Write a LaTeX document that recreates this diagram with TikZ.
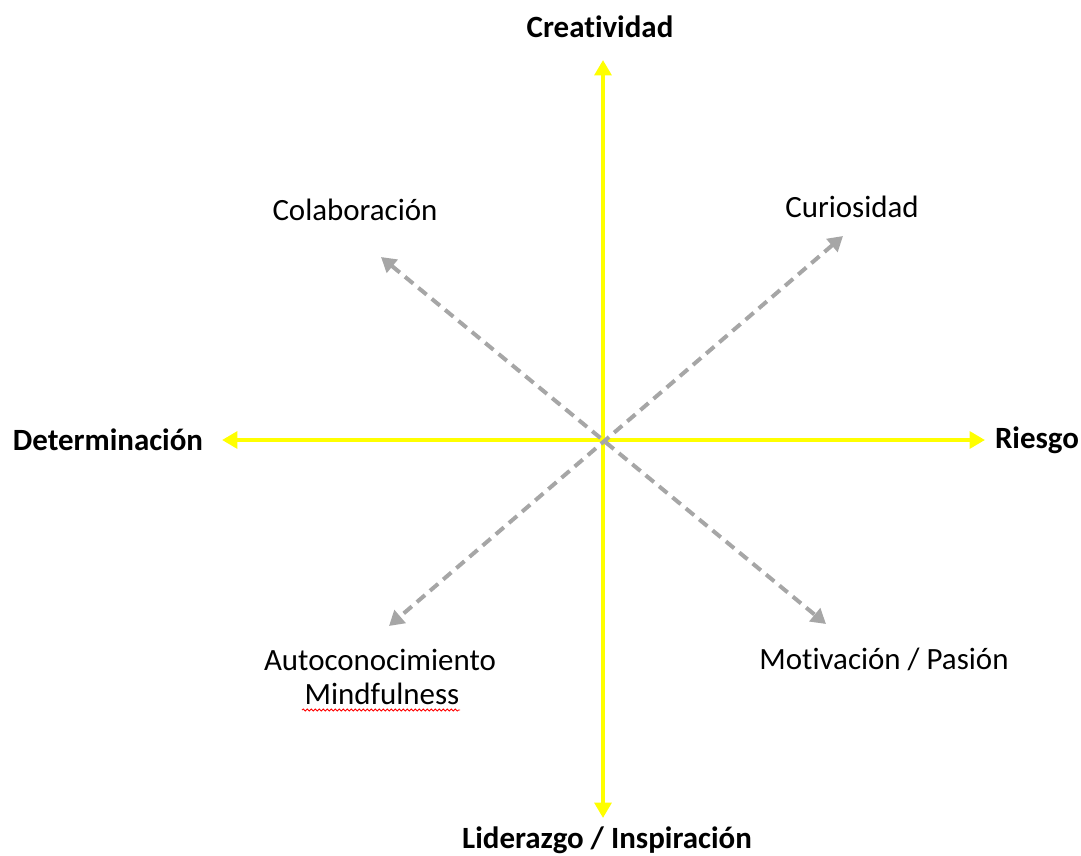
\documentclass[tikz,border=0pt]{standalone}
\usepackage{fontspec}
\setmainfont[Ligatures=NoCommon]{Carlito}
\usetikzlibrary{arrows.meta,decorations.pathmorphing}
\begin{document}
\begin{tikzpicture}[x=0.75pt,y=-0.75pt,
  axis/.style={draw={rgb,255:red,255;green,255;blue,0},line width=3pt,
    {Triangle[length=11.5pt,width=12.5pt]}-{Triangle[length=11.5pt,width=12.5pt]}},
  diag/.style={draw={rgb,255:red,166;green,166;blue,166},line width=3pt,
    dash pattern=on 8pt off 5pt,
    {Triangle[length=11pt,width=12.5pt]}-{Triangle[length=11pt,width=12.5pt]}},
  bold/.style={font=\fontsize{23.2pt}{27pt}\selectfont\bfseries,inner sep=0pt},
  reg/.style={font=\fontsize{23.2pt}{27pt}\selectfont,inner sep=0pt}]
\useasboundingbox (0,0) rectangle (1081,856);
\coordinate (c) at (603,440);
\coordinate (top) at (603,60);
\coordinate (bot) at (603,818);
\coordinate (lft) at (222,440);
\coordinate (rgt) at (985,440);
\coordinate (nw) at (381,257);
\coordinate (se) at (826,624);
\coordinate (ne) at (843,236);
\coordinate (sw) at (389,626);
\path[axis] (top) -- (bot);
\path[axis] (lft) -- (rgt);
\path[diag] (nw) -- (se);
\path[diag] (ne) -- (sw);
\node[bold] (crea) at (600,27) {Creatividad};
\node[bold] (lid) at (607,840) {Liderazgo / Inspiración};
\node[bold] (det) at (108,440) {Determinación};
\node[bold] (ries) at (1037,440) {Riesgo};
\node[reg] (cola) at (355,210) {Colaboración};
\node[reg] (curi) at (852,207) {Curiosidad};
\node[reg] (auto) at (380,660) {Autoconocimiento};
\node[reg] (mind) at (382,694) {Mindfulness};
\node[reg] (moti) at (884,659) {Motivación / Pasión};
\coordinate (sq1) at (302,710);
\coordinate (sq2) at (460,710);
\draw[red,line width=0.6pt,decorate,decoration={snake,amplitude=0.8pt,segment length=3pt}] (sq1) -- (sq2);
\end{tikzpicture}
\end{document}
